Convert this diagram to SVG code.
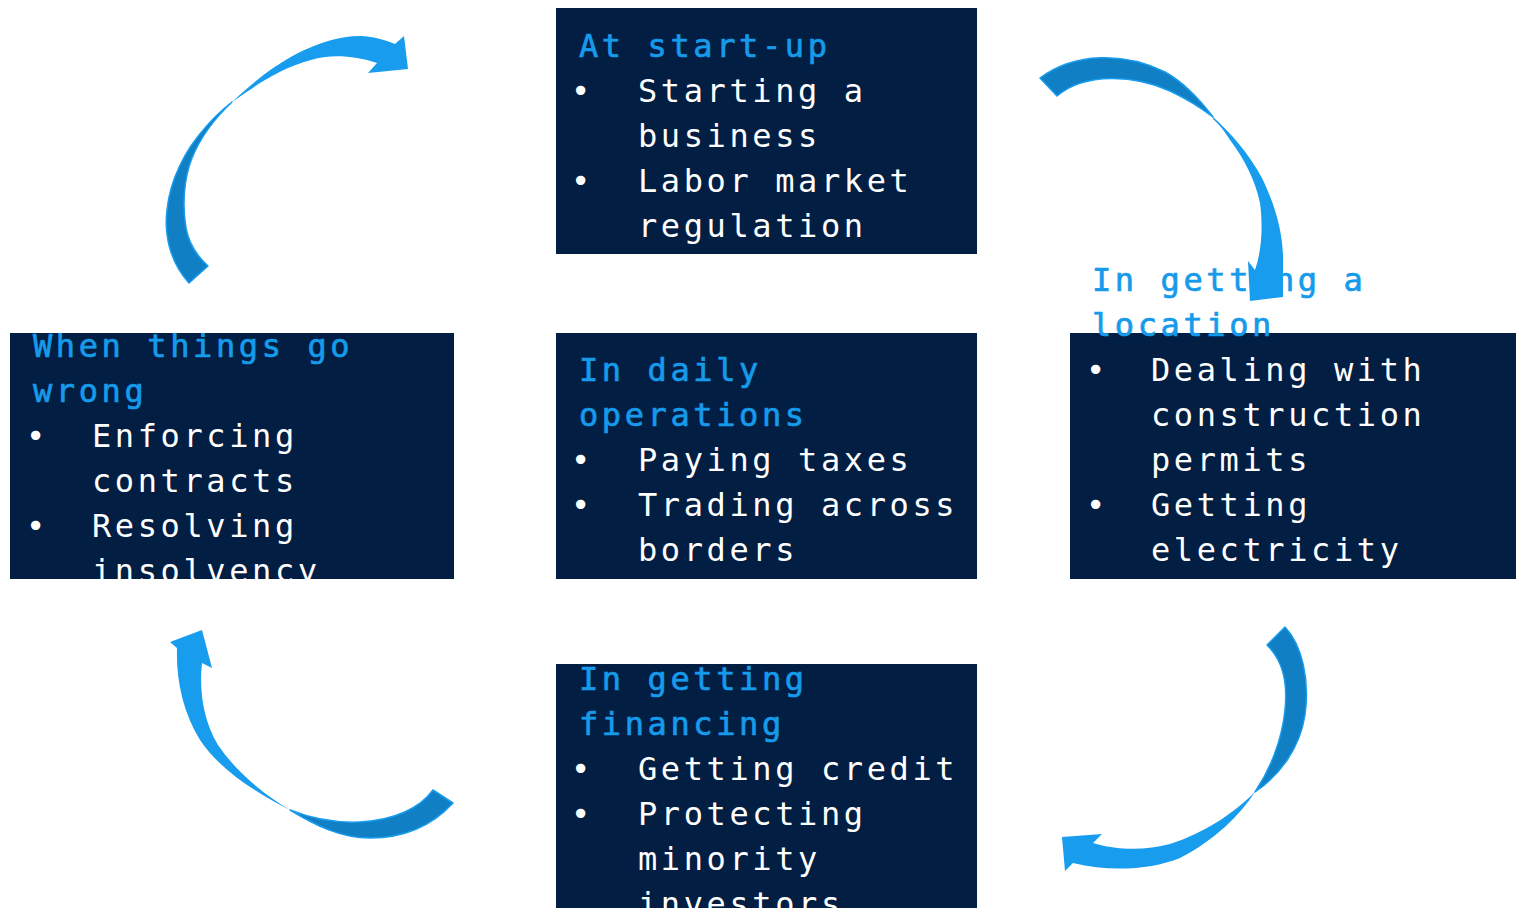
<svg xmlns="http://www.w3.org/2000/svg" width="1516" height="908" viewBox="0 0 1516 908">
  <style>
    .box { fill: #021E43; }
    .t { font-family: "DejaVu Sans Mono", "Liberation Mono", monospace; font-size: 32px; letter-spacing: 3.6px; }
    .title { fill: #169AEA; stroke: #169AEA; stroke-width: 0.7px; }
    .item { fill: #FFFFFF; }
    .face { fill: #179CEE; }
    .back { fill: #117FC3; stroke: #179CEE; stroke-width: 1.5; stroke-linejoin: round; }
  </style>
  <defs>
    <clipPath id="clip-wrong"><rect x="10" y="333" width="444" height="246"/></clipPath>
    <clipPath id="clip-finance"><rect x="556" y="664" width="421" height="244"/></clipPath>
  </defs>
  <rect width="1516" height="908" fill="#FFFFFF"/>

  <!-- At start-up -->
  <g id="startup">
    <rect class="box" x="556" y="8" width="421" height="246"/>
    <text class="t title" x="579" y="57">At start-up</text>
    <text class="t item" x="571" y="102">•</text>
    <text class="t item" x="638" y="102">Starting a</text>
    <text class="t item" x="638" y="147">business</text>
    <text class="t item" x="571" y="192">•</text>
    <text class="t item" x="638" y="192">Labor market</text>
    <text class="t item" x="638" y="237">regulation</text>
  </g>

  <!-- In daily operations -->
  <g id="operations">
    <rect class="box" x="556" y="333" width="421" height="246"/>
    <text class="t title" x="579" y="381">In daily</text>
    <text class="t title" x="579" y="426">operations</text>
    <text class="t item" x="571" y="471">•</text>
    <text class="t item" x="638" y="471">Paying taxes</text>
    <text class="t item" x="571" y="516">•</text>
    <text class="t item" x="638" y="516">Trading across</text>
    <text class="t item" x="638" y="561">borders</text>
  </g>

  <!-- When things go wrong -->
  <g id="wrong">
    <rect class="box" x="10" y="333" width="444" height="246"/>
    <g clip-path="url(#clip-wrong)">
      <text class="t title" x="33" y="357">When things go</text>
      <text class="t title" x="33" y="402">wrong</text>
      <text class="t item" x="26" y="447">•</text>
      <text class="t item" x="92" y="447">Enforcing</text>
      <text class="t item" x="92" y="492">contracts</text>
      <text class="t item" x="26" y="537">•</text>
      <text class="t item" x="92" y="537">Resolving</text>
      <text class="t item" x="92" y="582">insolvency</text>
    </g>
  </g>

  <!-- In getting a location -->
  <g id="location">
    <rect class="box" x="1070" y="333" width="446" height="246"/>
    <text class="t title" x="1092" y="291">In getting a</text>
    <text class="t title" x="1092" y="336">location</text>
    <text class="t item" x="1086" y="381">•</text>
    <text class="t item" x="1151" y="381">Dealing with</text>
    <text class="t item" x="1151" y="426">construction</text>
    <text class="t item" x="1151" y="471">permits</text>
    <text class="t item" x="1086" y="516">•</text>
    <text class="t item" x="1151" y="516">Getting</text>
    <text class="t item" x="1151" y="561">electricity</text>
  </g>

  <!-- In getting financing -->
  <g id="financing">
    <rect class="box" x="556" y="664" width="421" height="244"/>
    <g clip-path="url(#clip-finance)">
      <text class="t title" x="579" y="690">In getting</text>
      <text class="t title" x="579" y="735">financing</text>
      <text class="t item" x="571" y="780">•</text>
      <text class="t item" x="638" y="780">Getting credit</text>
      <text class="t item" x="571" y="825">•</text>
      <text class="t item" x="638" y="825">Protecting</text>
      <text class="t item" x="638" y="870">minority</text>
      <text class="t item" x="638" y="915">investors</text>
    </g>
  </g>

  <!-- curved cycle arrows: darker back band at the tail, lighter face up to the head -->
  <g id="connectors">
    <!-- wrong -> start-up -->
    <path class="back" d="M189,283 C170,262 164,235 167,210 C170,180 185,150 205,128 C213,118 222,110 232,102 C215,118 200,138 192,158 C184,178 182,205 186,228 C189,245 197,256 208,266 Z"/>
    <path class="face" d="M232,102 C250,85 270,68 298,53 C318,43 340,36 360,36 C372,36 385,40 395,44 L404,36 L408,69 L368,73 L377,63 C360,57 340,55 325,57 C305,60 285,68 265,80 C255,86 245,93 232,102 Z"/>

    <!-- start-up -> location -->
    <path class="back" d="M1040,78 C1075,52 1125,52 1165,72 C1185,83 1200,100 1213,117 C1200,107 1185,98 1170,91 C1135,75 1085,72 1057,96 Z"/>
    <path class="face" d="M1213,117 C1230,132 1250,155 1262,178 C1275,205 1282,230 1283,255 L1283,297 L1250,301 L1248,261 L1255,270 C1262,250 1263,225 1260,203 C1255,180 1245,160 1230,140 C1225,132 1220,125 1213,119 Z"/>

    <!-- location -> financing -->
    <path class="back" d="M1285,627 C1302,645 1310,680 1305,715 C1300,748 1280,775 1255,792 C1270,770 1282,740 1285,710 C1288,680 1282,660 1267,645 Z"/>
    <path class="face" d="M1255,792 C1240,815 1215,840 1180,858 C1150,870 1110,872 1073,863 L1065,871 L1062,837 L1102,834 L1093,843 C1115,850 1145,851 1170,844 C1205,833 1235,812 1255,792 Z"/>

    <!-- financing -> wrong -->
    <path class="back" d="M453,803 C430,828 400,838 370,838 C340,838 315,825 290,810 C310,818 335,823 360,822 C395,820 420,808 433,790 Z"/>
    <path class="face" d="M290,810 C255,792 220,770 200,740 C183,712 176,680 177,648 L170,642 L202,630 L212,668 L202,663 C199,690 203,720 218,745 C235,770 260,792 290,810 Z"/>
  </g>
</svg>
